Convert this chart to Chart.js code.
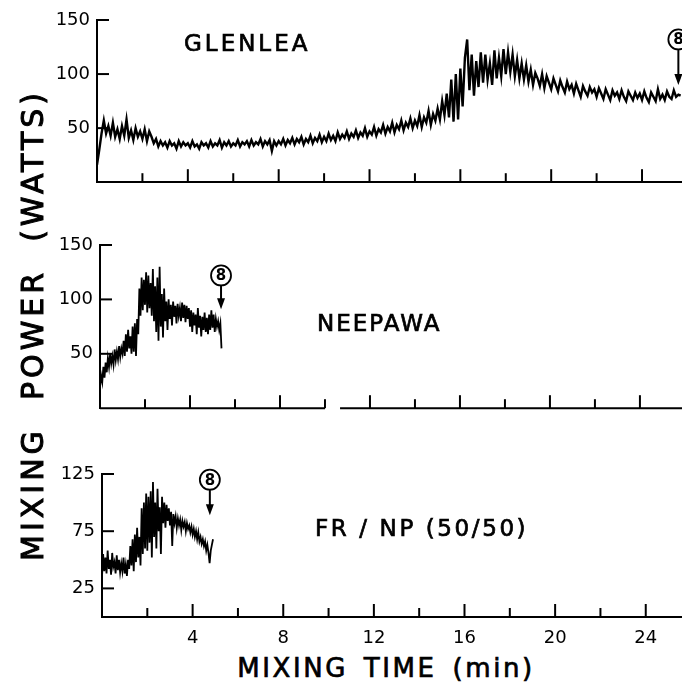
<!DOCTYPE html>
<html>
<head>
<meta charset="utf-8">
<script src="https://cdn.jsdelivr.net/npm/chart.js@4.4.0/dist/chart.umd.min.js"></script>
<style>
  body { margin: 0; background: #fff; }
  #wrap { position: relative; width: 682px; height: 691px; overflow: hidden; background: #fff; }
  canvas { position: absolute; left: 0; }
  .lbl { position: absolute; font-family: "DejaVu Sans", sans-serif; color: #000; white-space: pre; line-height: 1; -webkit-text-stroke: 0.7px #000; }
</style>
</head>
<body>
<div id="wrap">
  <canvas id="glenleaChart" width="682" height="200" style="top:0px"></canvas>
  <canvas id="neepawaChart" width="682" height="201" style="top:225px"></canvas>
  <canvas id="blendChart" width="682" height="198" style="top:454px"></canvas>

  <div class="lbl" style="left:184px; top:32px; font-size:23px; letter-spacing:3px;">GLENLEA</div>
  <div class="lbl" style="left:317px; top:312px; font-size:23px; letter-spacing:2px;">NEEPAWA</div>
  <div class="lbl" style="left:315px; top:517px; font-size:23px; letter-spacing:2.6px;">FR / NP (50/50)</div>

  <div class="lbl" style="left:-217px; top:305px; width:500px; height:40px; line-height:40px; text-align:center; font-size:30px; letter-spacing:4px; transform:rotate(-90deg); -webkit-text-stroke:1px #000;">MIXING  POWER  (WATTS)</div>
  <div class="lbl" style="left:186px; top:655px; width:400px; text-align:center; font-size:26px; letter-spacing:2.6px; word-spacing:5px;">MIXING TIME (min)</div>
</div>

<script>
// x tick marks (min) shared by all three panels, labelled every 4 min on the bottom one
const timeTicks = [2, 4, 6, 8, 10, 12, 14, 16, 18, 20, 22, 24];
const timeLabels = [4, 8, 12, 16, 20, 24];

const powerTicks150 = [50, 100, 150];
const powerTicks125 = [25, 75, 125];

// GLENLEA, one reading every 0.1 min from 0 to 25.7
const glenleaStep = 0.1;
const glenleaPower = [
  16, 30, 45, 57, 45, 52, 43, 55, 42, 49,
  40, 52, 43, 58, 41, 48, 39, 50, 42, 47,
  40, 49, 38, 47, 42, 36, 40, 33, 38, 34,
  37, 32, 38, 34, 36, 31, 38, 33, 37, 34,
  36, 32, 38, 33, 35, 31, 37, 34, 36, 32,
  38, 33, 36, 34, 39, 32, 37, 34, 38, 33,
  36, 34, 39, 33, 37, 35, 38, 33, 39, 34,
  37, 35, 40, 33, 38, 35, 39, 29, 38, 34,
  38, 35, 40, 34, 39, 36, 41, 35, 40, 37,
  42, 35, 40, 37, 43, 36, 41, 38, 44, 37,
  42, 38, 45, 39, 43, 38, 46, 40, 44, 41,
  47, 40, 45, 42, 48, 41, 46, 43, 50, 42,
  47, 44, 51, 43, 49, 46, 53, 45, 51, 47,
  55, 46, 53, 49, 57, 48, 55, 51, 59, 50,
  57, 52, 62, 51, 60, 55, 66, 53, 63, 57,
  68, 58, 75, 62, 82, 60, 95, 56, 100, 58,
  105, 70, 115, 132, 85, 118, 80, 112, 88, 120,
  92, 118, 95, 110, 90, 122, 96, 115, 98, 123,
  100, 120, 102, 118, 98, 113, 96, 110, 95, 108,
  93, 104, 90, 101, 96, 89, 100, 87, 98, 92,
  86, 96, 90, 84, 94, 88, 83, 93, 86, 90,
  82, 91, 85, 79, 89, 84, 80, 88, 83, 86,
  79, 87, 82, 77, 86, 81, 76, 85, 80, 83,
  77, 85, 79, 75, 84, 80, 76, 83, 78, 82,
  76, 84, 78, 74, 83, 79, 75, 86, 77, 81,
  76, 84, 79, 77, 85, 79, 81, 80
];

// NEEPAWA, one reading every 0.05 min from 0 to 5.4
const neepawaStep = 0.05;
const neepawaPower = [
  20, 30, 24, 38, 28, 42, 33, 46, 38, 50, 41, 48, 40, 54, 44, 52, 45, 57, 47, 55,
  50, 62, 48, 68, 52, 72, 55, 66, 50, 75, 52, 78, 48, 82, 68, 110, 85, 120, 90, 118,
  95, 125, 88, 122, 92, 115, 85, 128, 80, 112, 70, 120, 62, 130, 75, 105, 65, 110, 80, 98,
  72, 100, 82, 95, 76, 98, 84, 94, 78, 96, 85, 92, 80, 97, 83, 95, 79, 94, 82, 92,
  75, 90, 70, 88, 76, 86, 68, 92, 74, 85, 66, 84, 72, 88, 70, 83, 68, 86, 72, 90,
  74, 86, 70, 82, 75, 80, 72, 78, 55
];

// FR/NP (50/50), one reading every 0.05 min from 0 to 4.9
const blendStep = 0.05;
const blendPower = [
  35, 55, 40, 52, 38, 58, 42, 50, 37, 56, 44, 48, 38, 54, 41, 50, 39, 47, 40, 52,
  38, 46, 36, 50, 42, 62, 45, 68, 40, 72, 48, 78, 52, 70, 45, 95, 55, 100, 60, 108,
  58, 105, 65, 110, 52, 118, 70, 100, 60, 112, 75, 96, 55, 105, 82, 100, 78, 98, 84, 95,
  80, 92, 62, 90, 82, 88, 78, 86, 80, 85, 76, 84, 79, 83, 75, 82, 77, 80, 74, 79,
  72, 77, 70, 75, 68, 74, 66, 70, 64, 68, 62, 66, 58, 63, 56, 47, 58, 63, 68
];

// circled "8" arrows: time, circle level, arrow tip level
const glenleaMarker = { t: 25.6, circle: 132, tip: 90 };
const neepawaMarker = { t: 5.38, circle: 122, tip: 91 };
const blendMarker = { t: 4.76, circle: 120, tip: 89 };

const tickFont = { family: "DejaVu Sans", size: 18 };

// draws inward tick marks, broken axis and the circled-8 arrows
const figureMarks = {
    id: 'figureMarks',
    afterDraw(chart, args, opts) {
        const ctx = chart.ctx;
        const x = chart.scales.x;
        const y = chart.scales.y;
        ctx.save();
        ctx.strokeStyle = '#000';
        ctx.fillStyle = '#000';
        ctx.lineWidth = 2;

        if (opts.axisBreak) {
            const a = x.getPixelForValue(opts.axisBreak[0]);
            const b = x.getPixelForValue(opts.axisBreak[1]);
            ctx.beginPath();
            ctx.moveTo(x.left, y.bottom); ctx.lineTo(a, y.bottom);
            ctx.moveTo(b, y.bottom); ctx.lineTo(x.right, y.bottom);
            ctx.stroke();
        }

        timeTicks.forEach(t => {
            const px = x.getPixelForValue(t);
            const len = t % 4 === 0 ? 13 : 9;
            ctx.beginPath();
            ctx.moveTo(px, y.bottom);
            ctx.lineTo(px, y.bottom - len);
            ctx.stroke();
        });

        opts.yTicks.forEach(v => {
            const py = y.getPixelForValue(v);
            ctx.beginPath();
            ctx.moveTo(x.left, py);
            ctx.lineTo(x.left + 12, py);
            ctx.stroke();
        });

        const m = opts.marker;
        const cx = x.getPixelForValue(m.t);
        const cy = y.getPixelForValue(m.circle);
        const tip = y.getPixelForValue(m.tip);
        ctx.lineWidth = 1.8;
        ctx.beginPath();
        ctx.arc(cx, cy, 10, 0, Math.PI * 2);
        ctx.stroke();
        ctx.font = "bold 15px 'DejaVu Sans'";
        ctx.textAlign = 'center';
        ctx.textBaseline = 'middle';
        ctx.fillText('8', cx, cy + 1);
        ctx.lineWidth = 2;
        ctx.beginPath();
        ctx.moveTo(cx, cy + 10);
        ctx.lineTo(cx, tip - 6);
        ctx.stroke();
        ctx.beginPath();
        ctx.moveTo(cx - 4, tip - 11);
        ctx.lineTo(cx + 4, tip - 11);
        ctx.lineTo(cx, tip);
        ctx.closePath();
        ctx.fill();
        ctx.restore();
    }
};

function makePanel(id, values, step, opts) {
    const points = values.map((v, i) => ({ x: i * step, y: v }));

    return new Chart(document.getElementById(id), {
        type: 'line',
        data: {
            datasets: [{
                data: points,
                borderColor: '#000',
                borderWidth: opts.lineWidth,
                pointRadius: 0,
                tension: 0,
                fill: false
            }]
        },
        options: {
            responsive: false,
            animation: false,
            events: [],
            layout: { padding: { top: 20, right: 0, bottom: 0, left: 0 } },
            plugins: {
                legend: { display: false },
                tooltip: { enabled: false },
                figureMarks: { yTicks: opts.yTicks, marker: opts.marker, axisBreak: opts.axisBreak }
            },
            scales: {
                x: {
                    type: 'linear',
                    min: 0,
                    max: opts.xMax,
                    grid: { display: false, drawTicks: false },
                    border: { display: !opts.axisBreak, color: '#000', width: 2 },
                    afterBuildTicks: s => { s.ticks = timeTicks.map(v => ({ value: v })); },
                    afterFit: s => { s.height = opts.xHeight; },
                    ticks: {
                        display: opts.showLabels,
                        autoSkip: false,
                        maxRotation: 0,
                        padding: 11,
                        color: '#000',
                        font: tickFont,
                        callback: v => timeLabels.includes(v) ? String(v) : ''
                    }
                },
                y: {
                    min: 0,
                    max: opts.yMax,
                    grid: { display: false, drawTicks: false },
                    border: { display: true, color: '#000', width: 2 },
                    afterBuildTicks: s => { s.ticks = opts.yTicks.map(v => ({ value: v })); },
                    afterFit: s => { s.width = opts.axisX; },
                    ticks: { padding: 7, color: '#000', font: tickFont }
                }
            }
        },
        plugins: [figureMarks]
    });
}

makePanel('glenleaChart', glenleaPower, glenleaStep, {
    axisX: 97, xMax: 25.76, yMax: 150, yTicks: powerTicks150, lineWidth: 2.4,
    xHeight: 11, showLabels: false, marker: glenleaMarker
});

makePanel('neepawaChart', neepawaPower, neepawaStep, {
    axisX: 100, xMax: 25.87, yMax: 150, yTicks: powerTicks150, lineWidth: 1.8,
    xHeight: 11, showLabels: false, marker: neepawaMarker, axisBreak: [10, 10.67]
});

makePanel('blendChart', blendPower, blendStep, {
    axisX: 102, xMax: 25.6, yMax: 125, yTicks: powerTicks125, lineWidth: 1.8,
    xHeight: 35, showLabels: true, marker: blendMarker
});
</script>
</body>
</html>
